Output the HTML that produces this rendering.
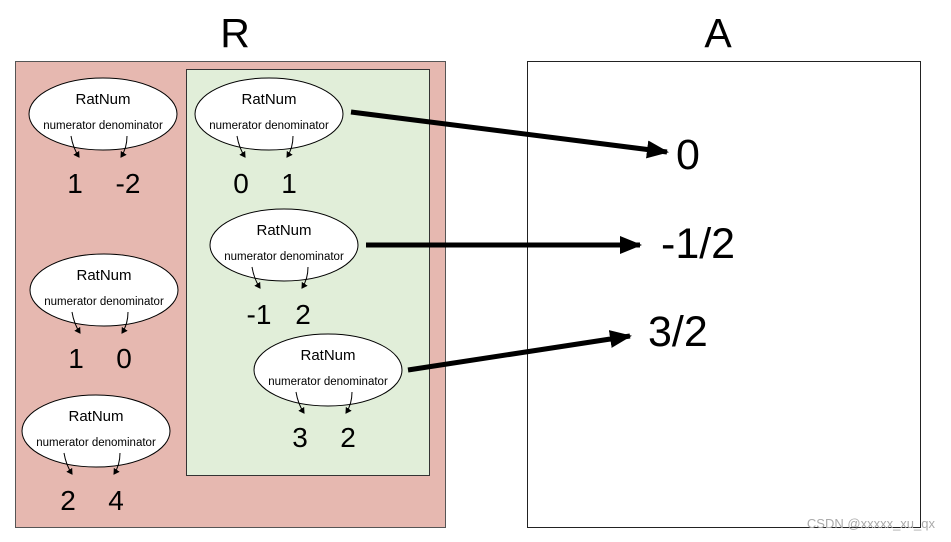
<!DOCTYPE html>
<html><head><meta charset="utf-8"><style>
html,body{margin:0;padding:0;background:#fff;}
svg{display:block;font-family:"Liberation Sans",Arial,sans-serif;}
</style></head><body>
<svg width="951" height="542" viewBox="0 0 951 542" xmlns="http://www.w3.org/2000/svg">
<defs>
<marker id="sa" markerWidth="6" markerHeight="7" refX="5" refY="3.5" orient="auto" markerUnits="userSpaceOnUse"><path d="M0,0 L6,3.5 L0,7 z" fill="#000"/></marker>
<marker id="ba" markerWidth="22" markerHeight="18" refX="20" refY="9" orient="auto" markerUnits="userSpaceOnUse"><path d="M0,0 L22,9 L0,18 z" fill="#000"/></marker>
</defs>
<text x="235" y="47" font-size="41" text-anchor="middle">R</text>
<text x="718" y="47" font-size="41" text-anchor="middle">A</text>
<rect x="15.5" y="61.5" width="430" height="466" fill="#e6b8b0" stroke="#555" stroke-width="1"/>
<rect x="186.5" y="69.5" width="243" height="406" fill="#e1eed9" stroke="#333" stroke-width="1"/>
<rect x="527.5" y="61.5" width="393" height="466" fill="#fff" stroke="#222" stroke-width="1"/>

<g transform="translate(103,114)">
<ellipse cx="0" cy="0" rx="74" ry="36" fill="#fff" stroke="#000"/>
<text x="0" y="-10" font-size="15" text-anchor="middle">RatNum</text>
<text x="0" y="15" font-size="11.5" text-anchor="middle">numerator denominator</text>
<path d="M-32,22 Q-30,34 -24,43" fill="none" stroke="#000" marker-end="url(#sa)"/>
<path d="M24,22 Q24,34 18,43" fill="none" stroke="#000" marker-end="url(#sa)"/>
<text x="-28" y="79" font-size="28" text-anchor="middle">1</text>
<text x="25" y="79" font-size="28" text-anchor="middle">-2</text>
</g>
<g transform="translate(269,114)">
<ellipse cx="0" cy="0" rx="74" ry="36" fill="#fff" stroke="#000"/>
<text x="0" y="-10" font-size="15" text-anchor="middle">RatNum</text>
<text x="0" y="15" font-size="11.5" text-anchor="middle">numerator denominator</text>
<path d="M-32,22 Q-30,34 -24,43" fill="none" stroke="#000" marker-end="url(#sa)"/>
<path d="M24,22 Q24,34 18,43" fill="none" stroke="#000" marker-end="url(#sa)"/>
<text x="-28" y="79" font-size="28" text-anchor="middle">0</text>
<text x="20" y="79" font-size="28" text-anchor="middle">1</text>
</g>
<g transform="translate(284,245)">
<ellipse cx="0" cy="0" rx="74" ry="36" fill="#fff" stroke="#000"/>
<text x="0" y="-10" font-size="15" text-anchor="middle">RatNum</text>
<text x="0" y="15" font-size="11.5" text-anchor="middle">numerator denominator</text>
<path d="M-32,22 Q-30,34 -24,43" fill="none" stroke="#000" marker-end="url(#sa)"/>
<path d="M24,22 Q24,34 18,43" fill="none" stroke="#000" marker-end="url(#sa)"/>
<text x="-25" y="79" font-size="28" text-anchor="middle">-1</text>
<text x="19" y="79" font-size="28" text-anchor="middle">2</text>
</g>
<g transform="translate(328,370)">
<ellipse cx="0" cy="0" rx="74" ry="36" fill="#fff" stroke="#000"/>
<text x="0" y="-10" font-size="15" text-anchor="middle">RatNum</text>
<text x="0" y="15" font-size="11.5" text-anchor="middle">numerator denominator</text>
<path d="M-32,22 Q-30,34 -24,43" fill="none" stroke="#000" marker-end="url(#sa)"/>
<path d="M24,22 Q24,34 18,43" fill="none" stroke="#000" marker-end="url(#sa)"/>
<text x="-28" y="77" font-size="28" text-anchor="middle">3</text>
<text x="20" y="77" font-size="28" text-anchor="middle">2</text>
</g>
<g transform="translate(104,290)">
<ellipse cx="0" cy="0" rx="74" ry="36" fill="#fff" stroke="#000"/>
<text x="0" y="-10" font-size="15" text-anchor="middle">RatNum</text>
<text x="0" y="15" font-size="11.5" text-anchor="middle">numerator denominator</text>
<path d="M-32,22 Q-30,34 -24,43" fill="none" stroke="#000" marker-end="url(#sa)"/>
<path d="M24,22 Q24,34 18,43" fill="none" stroke="#000" marker-end="url(#sa)"/>
<text x="-28" y="78" font-size="28" text-anchor="middle">1</text>
<text x="20" y="78" font-size="28" text-anchor="middle">0</text>
</g>
<g transform="translate(96,431)">
<ellipse cx="0" cy="0" rx="74" ry="36" fill="#fff" stroke="#000"/>
<text x="0" y="-10" font-size="15" text-anchor="middle">RatNum</text>
<text x="0" y="15" font-size="11.5" text-anchor="middle">numerator denominator</text>
<path d="M-32,22 Q-30,34 -24,43" fill="none" stroke="#000" marker-end="url(#sa)"/>
<path d="M24,22 Q24,34 18,43" fill="none" stroke="#000" marker-end="url(#sa)"/>
<text x="-28" y="79" font-size="28" text-anchor="middle">2</text>
<text x="20" y="79" font-size="28" text-anchor="middle">4</text>
</g>

<line x1="351" y1="112" x2="667" y2="152" stroke="#000" stroke-width="5" marker-end="url(#ba)"/>
<line x1="366" y1="245" x2="640" y2="245" stroke="#000" stroke-width="5" marker-end="url(#ba)"/>
<line x1="408" y1="370" x2="630" y2="336" stroke="#000" stroke-width="5" marker-end="url(#ba)"/>

<text x="676" y="169" font-size="43">0</text>
<text x="661" y="258" font-size="43">-1/2</text>
<text x="648" y="346" font-size="43">3/2</text>

<text x="935" y="528" font-size="13" fill="#aaa" text-anchor="end">CSDN @xxxxx_xu_qx</text>
</svg>
</body></html>
